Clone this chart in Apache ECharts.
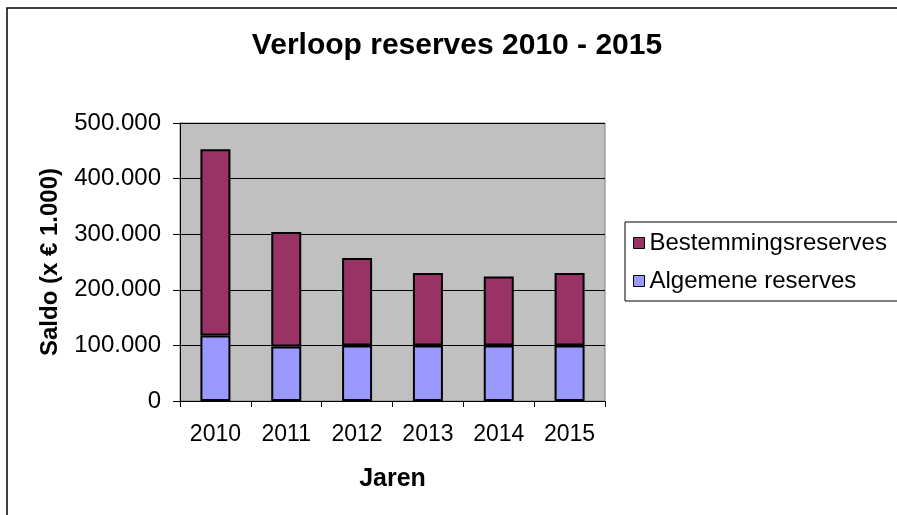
<!DOCTYPE html>
<html>
<head>
<meta charset="utf-8">
<script src="https://cdn.jsdelivr.net/npm/echarts@6/dist/echarts.min.js"></script>
<style>
html,body{margin:0;padding:0;background:#fff;}
#chart{width:897px;height:515px;}
</style>
</head>
<body>
<div id="chart"></div>
<script>
var categories = ['2010', '2011', '2012', '2013', '2014', '2015'];
var algemeneReserves = [118000, 98000, 100000, 100000, 100000, 100000];
var bestemmingsReserves = [335000, 206000, 157000, 130000, 124000, 130000];
var yTicks = [0, 100000, 200000, 300000, 400000, 500000];

var FONT = '"Liberation Sans", Arial, sans-serif';
function fmt(v) {
  return String(v).replace(/\B(?=(\d{3})+(?!\d))/g, '.');
}

var chart = echarts.init(document.getElementById('chart'));
chart.setOption({
  animation: false,
  backgroundColor: '#ffffff',
  textStyle: { fontFamily: FONT },
  title: {
    text: 'Verloop reserves 2010 - 2015',
    left: 452,
    textAlign: 'center',
    top: 26,
    textStyle: { fontFamily: FONT, fontSize: 30, fontWeight: 'bold', color: '#000' }
  },
  graphic: [{
    type: 'rect',
    shape: { x: 7, y: 8, width: 1200, height: 1000 },
    style: { fill: 'none', stroke: '#000', lineWidth: 1.5 },
    z: 100
  }],
  legend: {
    orient: 'vertical',
    left: 625,
    top: 222,
    padding: [9, 60, 8, 8],
    itemGap: 14,
    itemWidth: 11,
    itemHeight: 11,
    itemTextGap: 14,
    borderColor: '#000',
    borderWidth: 1,
    backgroundColor: '#fff',
    data: [
      { name: 'Bestemmingsreserves', icon: 'rect' },
      { name: 'Algemene reserves', icon: 'rect' }
    ],
    itemStyle: { borderColor: '#000', borderWidth: 1 },
    textStyle: { fontFamily: FONT, fontSize: 24, color: '#000', lineHeight: 24 }
  },
  grid: {
    left: 180, right: 292, top: 123, bottom: 114,
    show: true,
    backgroundColor: '#C0C0C0',
    borderColor: '#808080',
    borderWidth: 1
  },
  xAxis: {
    type: 'category',
    data: categories,
    name: 'Jaren',
    nameLocation: 'middle',
    nameGap: 66,
    nameTextStyle: { fontFamily: FONT, fontSize: 25, fontWeight: 'bold', color: '#000' },
    axisLine: { lineStyle: { color: '#000', width: 1 } },
    axisTick: { show: true, length: 6, lineStyle: { color: '#000' } },
    axisLabel: { margin: 22, fontFamily: FONT, fontSize: 23, color: '#000' },
    splitLine: { show: false }
  },
  yAxis: {
    type: 'value',
    min: yTicks[0],
    max: yTicks[yTicks.length - 1],
    interval: yTicks[1] - yTicks[0],
    name: 'Saldo (x € 1.000)',
    nameLocation: 'middle',
    nameGap: 118,
    nameTextStyle: { fontFamily: FONT, fontSize: 24, fontWeight: 'bold', color: '#000' },
    axisLine: { show: true, lineStyle: { color: '#000', width: 1 } },
    axisTick: { show: true, length: 7, lineStyle: { color: '#000' } },
    axisLabel: { margin: 19, fontFamily: FONT, fontSize: 24, color: '#000', formatter: fmt },
    splitLine: { show: true, lineStyle: { color: '#000', width: 1 } }
  },
  series: [
    {
      name: 'Algemene reserves',
      type: 'bar',
      stack: 'total',
      data: algemeneReserves,
      barWidth: 30,
      itemStyle: { color: '#9999FF', borderColor: '#000', borderWidth: 2 }
    },
    {
      name: 'Bestemmingsreserves',
      type: 'bar',
      stack: 'total',
      data: bestemmingsReserves,
      barWidth: 30,
      itemStyle: { color: '#993366', borderColor: '#000', borderWidth: 2 }
    }
  ]
});
</script>
</body>
</html>
